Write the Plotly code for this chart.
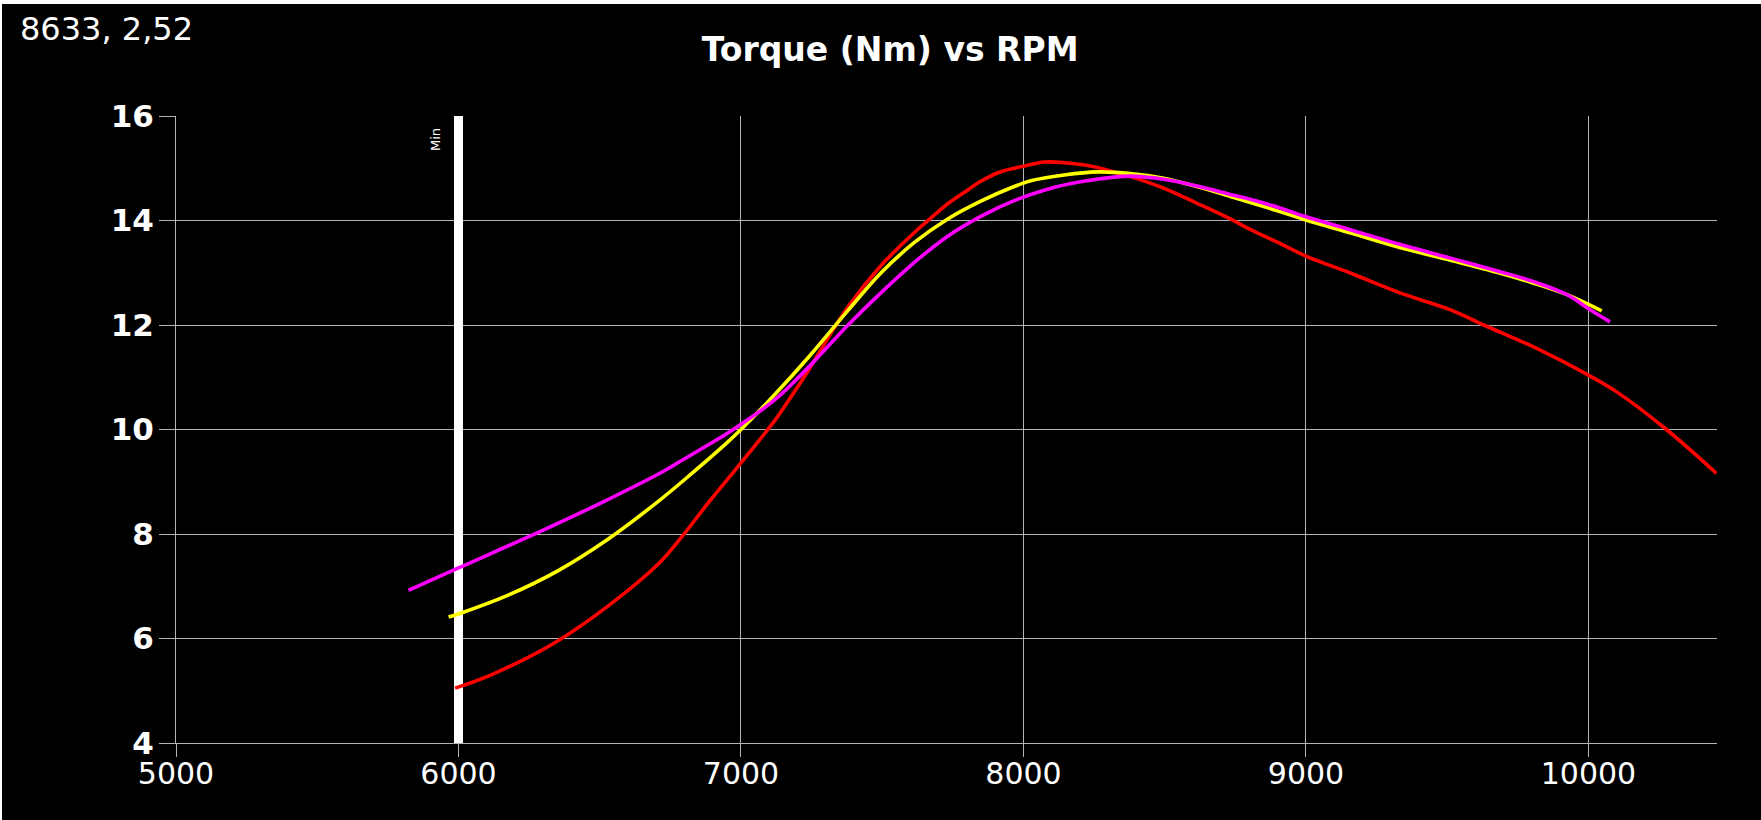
import plotly.graph_objects as go

# ---- data ----
red_rpm = [5988, 6118, 6341, 6529, 6706, 6788, 6882, 7000, 7118, 7144, 7235, 7261, 7379, 7496,
           7614, 7673, 7732, 7791, 7849, 7908, 7967, 8002, 8073, 8155, 8249, 8320, 8379, 8496,
           8614, 8732, 8806, 8908, 9000, 9159, 9335, 9512, 9629, 9806, 10000, 10100, 10276, 10453]
red_nm = [5.05, 5.31, 5.92, 6.62, 7.42, 7.93, 8.58, 9.36, 10.16, 10.36, 11.10, 11.33, 12.35, 13.14,
          13.77, 14.05, 14.32, 14.54, 14.75, 14.91, 15.0, 15.04, 15.12, 15.10, 15.03, 14.93, 14.84, 14.62,
          14.33, 14.03, 13.82, 13.56, 13.32, 12.99, 12.61, 12.29, 12.0, 11.58, 11.04, 10.72, 10.0, 9.16]

yellow_rpm = [5965, 6000, 6176, 6353, 6529, 6706, 6824, 6941, 7000, 7118, 7235, 7379, 7496, 7614,
              7732, 7849, 7967, 8026, 8144, 8261, 8379, 8496, 8614, 8732, 8806, 8908, 9000, 9159,
              9335, 9512, 9688, 9806, 9924, 10047]
yellow_nm = [6.41, 6.47, 6.83, 7.30, 7.90, 8.62, 9.15, 9.70, 10.0, 10.66, 11.36, 12.28, 13.00, 13.58,
             14.03, 14.37, 14.65, 14.76, 14.87, 14.93, 14.90, 14.81, 14.65, 14.46, 14.34, 14.17, 14.01, 13.76,
             13.48, 13.24, 12.99, 12.80, 12.58, 12.27]

magenta_rpm = [5823, 6000, 6294, 6518, 6729, 6800, 6941, 7000, 7118, 7235, 7379, 7496, 7614, 7732,
               7849, 7967, 8085, 8202, 8320, 8379, 8496, 8614, 8732, 8806, 8908, 9000, 9159, 9335,
               9512, 9688, 9806, 9924, 10006, 10076]
magenta_nm = [6.92, 7.35, 8.06, 8.63, 9.21, 9.44, 9.89, 10.1, 10.56, 11.17, 12.00, 12.62, 13.20, 13.70,
              14.08, 14.38, 14.60, 14.74, 14.83, 14.85, 14.79, 14.66, 14.50, 14.40, 14.24, 14.07, 13.82, 13.54,
              13.28, 13.02, 12.83, 12.58, 12.29, 12.06]

MIN_RPM = 6000
MIN_LABEL = "Min"
CURSOR_TEXT = "8633, 2,52"
TITLE = "Torque (Nm) vs RPM"
X_RANGE = [5000, 10455]
Y_RANGE = [4, 16]

GRID = "#b4b4b4"
FONT = "DejaVu Sans"

fig = go.Figure()
for xs, ys, col in [(red_rpm, red_nm, "#ff0000"),
                    (yellow_rpm, yellow_nm, "#ffff00"),
                    (magenta_rpm, magenta_nm, "#ff00ff")]:
    fig.add_trace(go.Scatter(x=xs, y=ys, mode="lines",
                             line=dict(color=col, width=3.6, shape="spline", smoothing=1.0),
                             showlegend=False, hoverinfo="skip"))

fig.add_shape(type="line", xref="x", yref="y", x0=MIN_RPM, x1=MIN_RPM,
              y0=Y_RANGE[0], y1=Y_RANGE[1], line=dict(color="white", width=9), layer="between")
fig.add_annotation(x=MIN_RPM, y=Y_RANGE[1], xref="x", yref="y", text=MIN_LABEL, textangle=-90,
                   showarrow=False, xanchor="center", yanchor="top", xshift=-23, yshift=-10,
                   font=dict(family=FONT, size=13, color="white"))
fig.add_annotation(x=-0.1023, y=1.138, xref="paper", yref="paper", text=CURSOR_TEXT,
                   showarrow=False, xanchor="left", yanchor="middle",
                   font=dict(family=FONT, size=32, color="white"))

fig.update_layout(
    width=1761, height=820,
    paper_bgcolor="black", plot_bgcolor="black",
    margin=dict(l=174, r=46, t=112, b=81),
    title=dict(text=TITLE, xref="container", yref="container", x=0.5043, y=0.944,
               xanchor="center", yanchor="middle",
               font=dict(family=FONT, size=33, color="white", weight="bold")),
    xaxis=dict(range=X_RANGE, dtick=1000, tick0=5000, tickformat="d",
               showgrid=True, gridcolor=GRID, gridwidth=1,
               showline=True, linecolor=GRID, linewidth=1, zeroline=False,
               ticks="outside", ticklen=13, tickcolor=GRID, tickwidth=1, ticklabelstandoff=-9,
               tickfont=dict(family=FONT, size=30, color="white"), automargin=False),
    yaxis=dict(range=Y_RANGE, dtick=2, tick0=4, showgrid=True, gridcolor=GRID, gridwidth=1,
               showline=True, linecolor=GRID, linewidth=1, zeroline=False,
               ticks="outside", ticklen=16, tickcolor=GRID, tickwidth=1, ticklabelstandoff=-1,
               tickfont=dict(family=FONT, size=31, color="white", weight="bold"), automargin=False),
)

fig.write_html("out.html",
               post_script="document.body.style.margin='4px 0 0 2px';"
                           "document.body.style.overflow='hidden';")
